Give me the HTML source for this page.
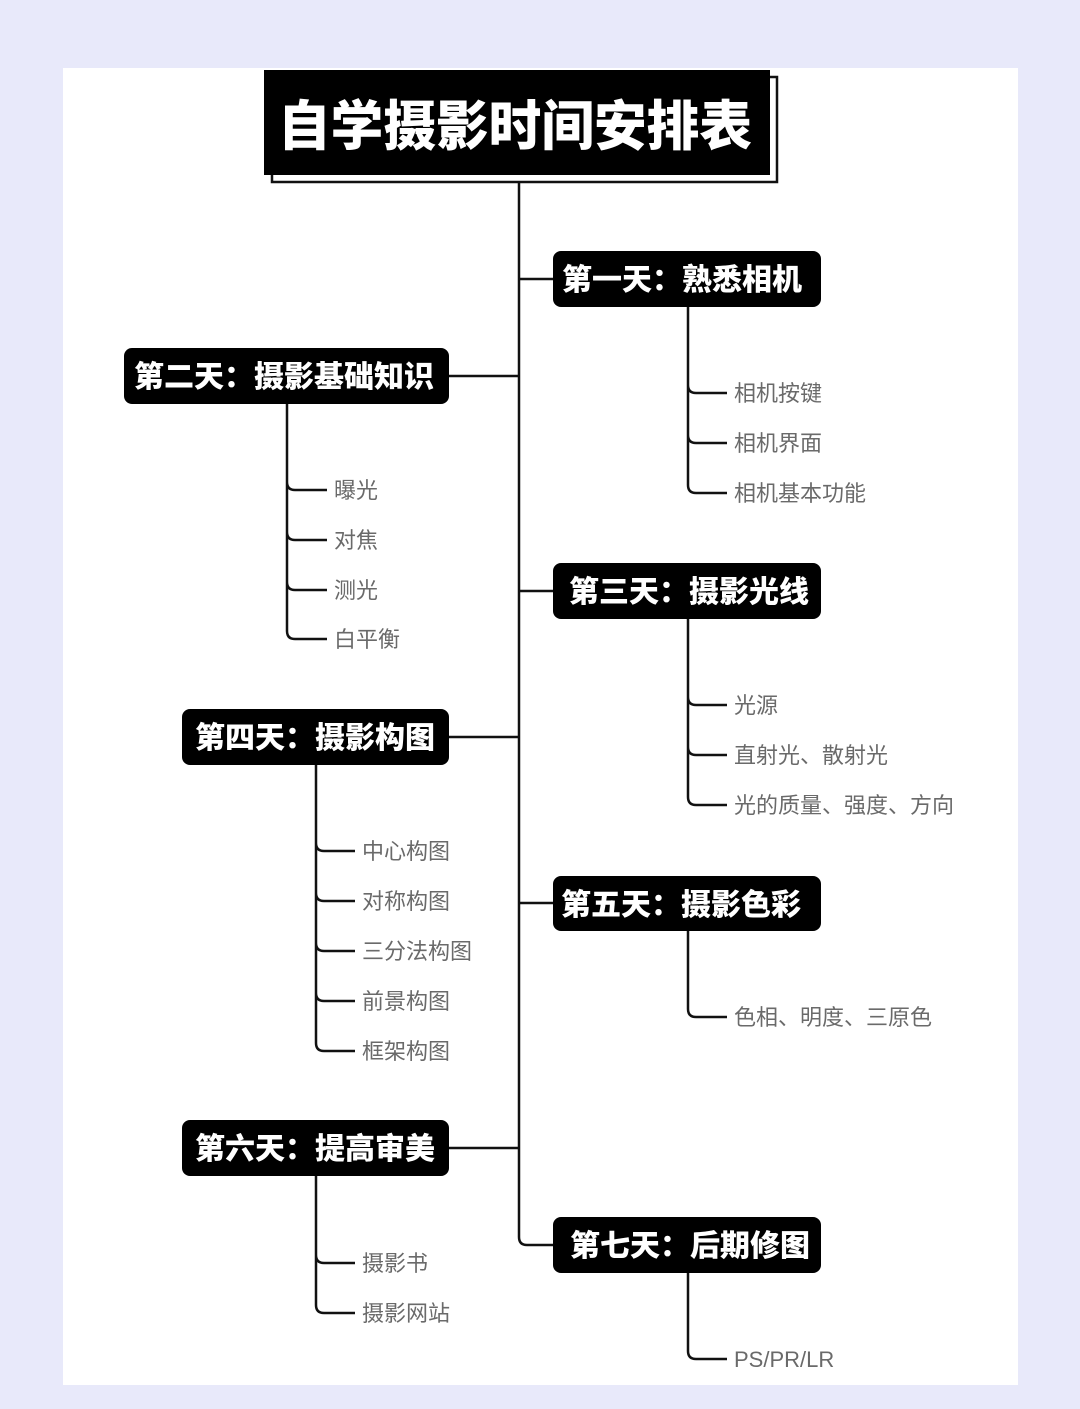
<!DOCTYPE html>
<html><head><meta charset="utf-8"><style>
html,body{margin:0;padding:0;background:#e8e9fa;}
svg{display:block}
.n{font-family:"Liberation Sans","Noto Sans CJK SC",sans-serif;font-weight:900;fill:#fff;font-size:30px}
.c{font-family:"Liberation Sans","Noto Sans CJK SC",sans-serif;fill:#6a6a6a;font-size:22px}
.l{fill:none;stroke:#111;stroke-width:2.5}
</style></head><body>
<svg width="1080" height="1409" viewBox="0 0 1080 1409">
<rect x="0" y="0" width="1080" height="1409" fill="#e8e9fa"/>
<rect x="63" y="68" width="955" height="1317" fill="#fff"/>
<!-- title -->
<rect x="272" y="77" width="505" height="105" fill="#fff" stroke="#111" stroke-width="2.5"/>
<rect x="264" y="70" width="506" height="105" fill="#000"/>
<text x="278" y="145" textLength="474" lengthAdjust="spacingAndGlyphs" font-family="Liberation Sans,Noto Sans CJK SC,sans-serif" font-weight="900" font-size="54" fill="#fff">自学摄影时间安排表</text>
<!-- main trunk -->
<path class="l" d="M519,182 V1237 Q519,1245 527,1245 H553"/>
<path class="l" d="M519,279 H553 M519,376 H449 M519,591 H553 M519,737 H449 M519,903 H553 M519,1148 H449"/>
<!-- nodes -->
<rect x="553" y="251" width="268" height="56" rx="8" fill="#000"/>
<text class="n" x="682" y="290" text-anchor="middle">第一天：熟悉相机</text>
<rect x="124" y="348" width="325" height="56" rx="8" fill="#000"/>
<text class="n" x="284" y="387" text-anchor="middle">第二天：摄影基础知识</text>
<rect x="553" y="563" width="268" height="56" rx="8" fill="#000"/>
<text class="n" x="689" y="602" text-anchor="middle">第三天：摄影光线</text>
<rect x="182" y="709" width="267" height="56" rx="8" fill="#000"/>
<text class="n" x="315" y="748" text-anchor="middle">第四天：摄影构图</text>
<rect x="553" y="876" width="268" height="55" rx="8" fill="#000"/>
<text class="n" x="681" y="915" text-anchor="middle">第五天：摄影色彩</text>
<rect x="182" y="1120" width="267" height="56" rx="8" fill="#000"/>
<text class="n" x="315" y="1159" text-anchor="middle">第六天：提高审美</text>
<rect x="553" y="1217" width="268" height="56" rx="8" fill="#000"/>
<text class="n" x="690" y="1256" text-anchor="middle">第七天：后期修图</text>
<!-- branches -->
<path class="l" d="M688,307 V485 Q688,493 696,493 H727 M688,385 Q688,393 696,393 H727 M688,435 Q688,443 696,443 H727"/>
<text class="c" x="734" y="401">相机按键</text><text class="c" x="734" y="451">相机界面</text><text class="c" x="734" y="501">相机基本功能</text>

<path class="l" d="M287,404 V631 Q287,639 295,639 H327 M287,482 Q287,490 295,490 H327 M287,532 Q287,540 295,540 H327 M287,582 Q287,590 295,590 H327"/>
<text class="c" x="334" y="498">曝光</text><text class="c" x="334" y="548">对焦</text><text class="c" x="334" y="598">测光</text><text class="c" x="334" y="647">白平衡</text>

<path class="l" d="M688,619 V797 Q688,805 696,805 H727 M688,697 Q688,705 696,705 H727 M688,747 Q688,755 696,755 H727"/>
<text class="c" x="734" y="713">光源</text><text class="c" x="734" y="763">直射光、散射光</text><text class="c" x="734" y="813">光的质量、强度、方向</text>

<path class="l" d="M316,765 V1043 Q316,1051 324,1051 H355 M316,843 Q316,851 324,851 H355 M316,893 Q316,901 324,901 H355 M316,943 Q316,951 324,951 H355 M316,993 Q316,1001 324,1001 H355"/>
<text class="c" x="362" y="859">中心构图</text><text class="c" x="362" y="909">对称构图</text><text class="c" x="362" y="959">三分法构图</text><text class="c" x="362" y="1009">前景构图</text><text class="c" x="362" y="1059">框架构图</text>

<path class="l" d="M688,931 V1009 Q688,1017 696,1017 H727"/>
<text class="c" x="734" y="1025">色相、明度、三原色</text>

<path class="l" d="M316,1176 V1305 Q316,1313 324,1313 H355 M316,1255 Q316,1263 324,1263 H355"/>
<text class="c" x="362" y="1271">摄影书</text><text class="c" x="362" y="1321">摄影网站</text>

<path class="l" d="M688,1273 V1351 Q688,1359 696,1359 H727"/>
<text class="c" x="734" y="1367">PS/PR/LR</text>
</svg>
</body></html>
